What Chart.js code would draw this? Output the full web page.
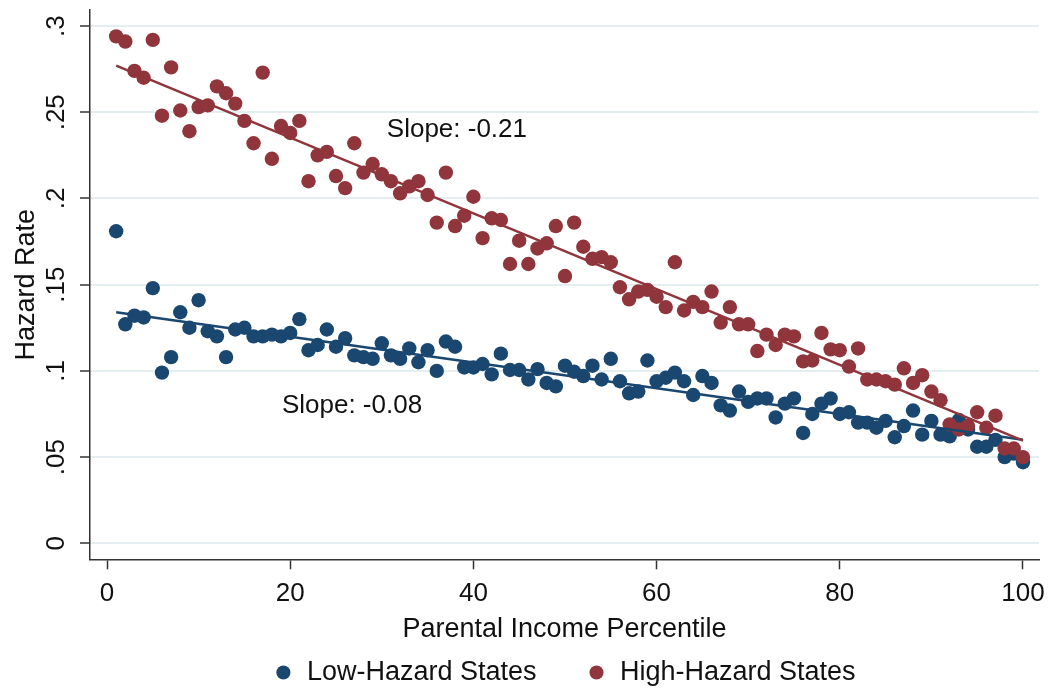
<!DOCTYPE html>
<html>
<head>
<meta charset="utf-8">
<script src="https://cdn.jsdelivr.net/npm/chart.js@4.4.1/dist/chart.umd.min.js"></script>
<style>
html,body{margin:0;padding:0;background:#fff;}
#wrap{width:1051px;height:694px;position:relative;}
</style>
</head>
<body>
<div id="wrap"><canvas id="c"></canvas></div>
<script>
// ---- data ----
const percentiles = [1,2,3,4,5,6,7,8,9,10,11,12,13,14,15,16,17,18,19,20,
  21,22,23,24,25,26,27,28,29,30,31,32,33,34,35,36,37,38,39,40,
  41,42,43,44,45,46,47,48,49,50,51,52,53,54,55,56,57,58,59,60,
  61,62,63,64,65,66,67,68,69,70,71,72,73,74,75,76,77,78,79,80,
  81,82,83,84,85,86,87,88,89,90,91,92,93,94,95,96,97,98,99,100];

const lowHazard = [0.181,0.127,0.132,0.131,0.148,0.099,0.108,0.134,0.125,0.141,
  0.123,0.120,0.108,0.124,0.125,0.120,0.120,0.121,0.120,0.122,
  0.130,0.112,0.115,0.124,0.114,0.119,0.109,0.108,0.107,0.116,
  0.109,0.107,0.113,0.105,0.112,0.100,0.117,0.114,0.102,0.102,
  0.104,0.098,0.110,0.1005,0.1005,0.095,0.101,0.093,0.091,0.103,
  0.0995,0.097,0.103,0.095,0.107,0.094,0.087,0.088,0.106,0.094,
  0.096,0.099,0.094,0.086,0.097,0.093,0.080,0.077,0.088,0.082,
  0.084,0.084,0.073,0.081,0.084,0.064,0.075,0.081,0.084,0.075,
  0.076,0.070,0.070,0.067,0.071,0.0615,0.068,0.077,0.063,0.071,
  0.063,0.062,0.0715,0.066,0.056,0.056,0.060,0.050,0.052,0.047];

const highHazard = [0.294,0.291,0.274,0.270,0.292,0.248,0.276,0.251,0.239,0.253,
  0.254,0.265,0.261,0.255,0.245,0.232,0.273,0.223,0.242,0.238,
  0.245,0.210,0.225,0.227,0.213,0.206,0.232,0.215,0.220,0.214,
  0.210,0.203,0.207,0.210,0.202,0.186,0.215,0.184,0.190,0.201,
  0.177,0.1885,0.1875,0.162,0.1755,0.162,0.171,0.174,0.184,0.155,
  0.186,0.172,0.165,0.166,0.163,0.1485,0.1415,0.146,0.147,0.143,
  0.137,0.163,0.135,0.140,0.137,0.146,0.128,0.137,0.127,0.127,
  0.1115,0.121,0.115,0.121,0.120,0.1055,0.106,0.122,0.1125,0.112,
  0.1025,0.113,0.095,0.095,0.094,0.092,0.1015,0.093,0.0975,0.088,
  0.083,0.069,0.066,0.068,0.076,0.067,0.074,0.055,0.055,0.050];

const fitX = [1, 100];
const fitLow = [0.134, 0.060];
const fitHigh = [0.277, 0.0595];

const seriesNames = ['Low-Hazard States', 'High-Hazard States'];
const slopeTexts = ['Slope: -0.21', 'Slope: -0.08'];
const slopeAtX = [38.2, 26.75];
const slopeAtY = [0.2397, 0.0796];

const xTicks = [0, 20, 40, 60, 80, 100];
const xTickLabels = ['0', '20', '40', '60', '80', '100'];
const yTicks = [0, 0.05, 0.1, 0.15, 0.2, 0.25, 0.3];
const yTickLabels = ['0', '.05', '.1', '.15', '.2', '.25', '.3'];

const xTitle = 'Parental Income Percentile';
const yTitle = 'Hazard Rate';

// ---- style ----
const FONT = '"Liberation Sans", Arial, Helvetica, sans-serif';
const NAVY = '#1a476f';
const MAROON = '#90353b';
const AXIS = '#333333';
const TEXT = '#111111';
const GRID = '#e4eef1';

const toPts = (ys) => ys.map((y, i) => ({ x: percentiles[i], y: y }));
const fitPts = (ys) => ys.map((y, i) => ({ x: fitX[i], y: y }));

const slopePlugin = {
  id: 'slopeLabels',
  afterDatasetsDraw(chart) {
    const { ctx, scales: { x, y } } = chart;
    ctx.save();
    ctx.font = '26px ' + FONT;
    ctx.fillStyle = TEXT;
    ctx.textAlign = 'center';
    ctx.textBaseline = 'middle';
    slopeTexts.forEach((t, i) => {
      ctx.fillText(t, x.getPixelForValue(slopeAtX[i]), y.getPixelForValue(slopeAtY[i]));
    });
    ctx.restore();
  }
};

new Chart(document.getElementById('c'), {
  type: 'scatter',
  data: {
    datasets: [
      { label: seriesNames[0], data: toPts(lowHazard), backgroundColor: NAVY, borderColor: NAVY,
        borderWidth: 0, pointRadius: 7.2, pointHoverRadius: 7.2, order: 3 },
      { label: seriesNames[1], data: toPts(highHazard), backgroundColor: MAROON, borderColor: MAROON,
        borderWidth: 0, pointRadius: 7.2, pointHoverRadius: 7.2, order: 2 },
      { type: 'line', label: 'fitLow', data: fitPts(fitLow), borderColor: NAVY, backgroundColor: NAVY,
        borderWidth: 2.5, pointRadius: 0, showLine: true, fill: false, order: 1 },
      { type: 'line', label: 'fitHigh', data: fitPts(fitHigh), borderColor: MAROON, backgroundColor: MAROON,
        borderWidth: 2.5, pointRadius: 0, showLine: true, fill: false, order: 0 }
    ]
  },
  options: {
    responsive: true,
    maintainAspectRatio: false,
    animation: false,
    layout: { padding: { top: 10, right: 12, left: 0, bottom: -2 } },
    plugins: {
      legend: {
        position: 'bottom',
        fullSize: false,
        labels: {
          usePointStyle: true,
          boxWidth: 20,
          boxHeight: 10,
          padding: 50,
          color: TEXT,
          font: { family: FONT, size: 27 },
          filter: (item) => seriesNames.includes(item.text),
          sort: (a, b) => a.datasetIndex - b.datasetIndex
        }
      },
      tooltip: { enabled: false }
    },
    scales: {
      x: {
        type: 'linear',
        min: -1.856,
        max: 101.75,
        afterBuildTicks: (s) => { s.ticks = xTicks.map(v => ({ value: v })); },
        afterFit: (s) => { s.height = 49.7; s.paddingLeft = 0; s.paddingRight = 0; },
        grid: { drawOnChartArea: false, tickLength: 10, tickColor: AXIS, tickWidth: 1.5 },
        border: { display: true, color: AXIS, width: 1.5 },
        ticks: { font: { family: FONT, size: 26 }, color: TEXT, padding: 9, minRotation: 0, maxRotation: 0,
                 callback: (v, i) => xTickLabels[i] },
        title: { display: true, text: xTitle, font: { family: FONT, size: 27 }, color: TEXT,
                 padding: { top: 0, bottom: -37.2 } }
      },
      y: {
        type: 'linear',
        min: -0.00928,
        max: 0.3093,
        afterBuildTicks: (s) => { s.ticks = yTicks.map(v => ({ value: v })); },
        afterFit: (s) => { s.width = 90; s.paddingTop = 0; s.paddingBottom = 0; },
        grid: { color: GRID, lineWidth: 2, tickLength: 10, tickColor: AXIS, tickWidth: 1.5 },
        border: { display: true, color: AXIS, width: 1.5 },
        ticks: { font: { family: FONT, size: 26 }, color: TEXT, padding: 5, minRotation: 90, maxRotation: 90,
                 crossAlign: 'center', callback: (v, i) => yTickLabels[i] },
        title: { display: true, text: yTitle, font: { family: FONT, size: 27 }, color: TEXT,
                 padding: { top: 10.8, bottom: 0 } }
      }
    }
  },
  plugins: [slopePlugin]
});
</script>
</body>
</html>
